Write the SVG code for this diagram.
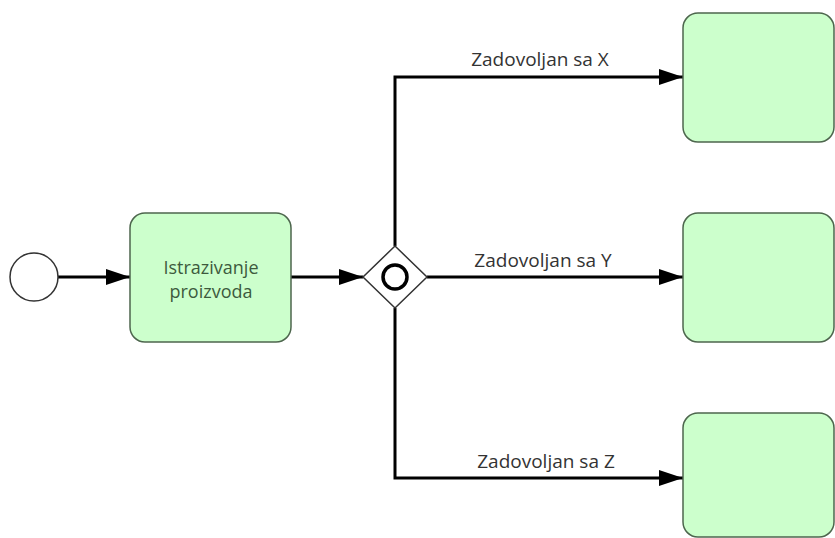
<svg xmlns="http://www.w3.org/2000/svg" width="835" height="538" viewBox="0 0 835 538">
<defs>
<marker id="arr" viewBox="0 0 24 16" refX="24" refY="8" markerWidth="24" markerHeight="16" markerUnits="userSpaceOnUse" orient="auto">
<path d="M0,0 L24,8 L0,16 Z" fill="#000"/>
</marker>
<style>
.task{fill:#ccffcc;stroke:#4d664d;stroke-width:1.5}
.flow{fill:none;stroke:#000;stroke-width:3;marker-end:url(#arr)}
.lbl{font-family:"Open Sans","Liberation Sans",sans-serif;font-size:19px;fill:#333;text-anchor:middle}
.ttxt{font-family:"Open Sans","Liberation Sans",sans-serif;font-size:18px;fill:#3d5a3d;text-anchor:middle}
</style>
</defs>
<rect width="835" height="538" fill="#fff"/>
<g id="connectors">
<path class="flow" d="M58,277 L130,277"/>
<path class="flow" d="M291,277 L363,277"/>
<path class="flow" d="M395,246 L395,77 L683,77"/>
<path class="flow" d="M427,277 L683,277"/>
<path class="flow" d="M395,308 L395,478 L683,478"/>
<text class="lbl" x="540" y="66">Zadovoljan sa X</text>
<text class="lbl" x="543" y="267">Zadovoljan sa Y</text>
<text class="lbl" x="546" y="468">Zadovoljan sa Z</text>
</g>
<g id="start">
<circle cx="34" cy="277" r="24" fill="#fff" stroke="#333" stroke-width="1.5"/>
</g>
<g id="task1">
<rect class="task" x="130" y="213" width="161" height="129" rx="15"/>
<text class="ttxt" x="211" y="274">Istrazivanje</text>
<text class="ttxt" x="211" y="298">proizvoda</text>
</g>
<g id="gateway">
<path d="M395,246 L427,277 L395,308 L363,277 Z" fill="#fff" stroke="#333" stroke-width="1.5"/>
<circle cx="395" cy="277" r="12" fill="none" stroke="#000" stroke-width="3.5"/>
</g>
<g id="taskX">
<rect class="task" x="683" y="13" width="151" height="129" rx="15"/>
</g>
<g id="taskY">
<rect class="task" x="683" y="213" width="151" height="129" rx="15"/>
</g>
<g id="taskZ">
<rect class="task" x="683" y="413" width="151" height="124" rx="15"/>
</g>
</svg>
